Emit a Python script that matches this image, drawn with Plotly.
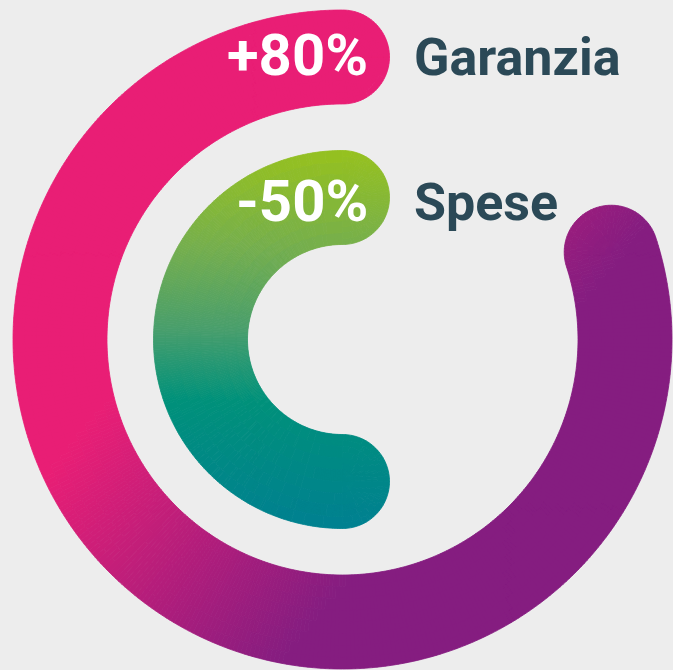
import numpy as np
import plotly.graph_objects as go

# ---------------- data ----------------
categories = ["Garanzia", "Spese"]
values = [80, 50]                 # percent of full circle
value_labels = ["+80%", "-50%"]

# ---------------- style ----------------
BG = "#EDEDED"
LABEL_COLOR = "#2B4957"
CX, CY = 342.5, 339.5             # centre of rings in page pixels
W, H = 673, 670
ring_radius = [282.5, 142.0]
half_width = 47.0

PINK = np.array([233, 30, 117])
PURPLE = np.array([133, 29, 128])
GREEN_STOPS = [(152, (150, 193, 31)), (250, (116, 174, 78)), (330, (72, 158, 108)),
               (400, (0, 145, 122)), (530, (0, 128, 145))]


def outer_color(x, y):
    px, py = x + CX, CY - y
    a = np.radians(40)
    t = px * np.cos(a) + py * np.sin(a)
    f = float(np.clip((t - 340) / 300, 0, 1))
    return PINK + (PURPLE - PINK) * f


def inner_color(x, y):
    py = CY - y
    ys = [s[0] for s in GREEN_STOPS]
    cols = np.array([s[1] for s in GREEN_STOPS], dtype=float)
    return np.array([np.interp(py, ys, cols[:, k]) for k in range(3)])


color_funcs = [outer_color, inner_color]


def cells_for_arc(rc, hw, value):
    th0 = np.pi / 2
    th1 = th0 + 2 * np.pi * value / 100.0
    polys = []
    n = int(np.ceil(np.degrees(th1 - th0) / 0.75))
    ths = np.linspace(th0, th1, n + 1)
    rs = np.linspace(rc - hw, rc + hw, 9)
    for i in range(n):
        for j in range(len(rs) - 1):
            a, b = ths[i], ths[i + 1]
            r0, r1 = rs[j], rs[j + 1]
            pts = [(r0 * np.cos(a), r0 * np.sin(a)), (r1 * np.cos(a), r1 * np.sin(a)),
                   (r1 * np.cos(b), r1 * np.sin(b)), (r0 * np.cos(b), r0 * np.sin(b))]
            polys.append(pts)
    # round caps
    for th, sgn in ((th0, -1), (th1, 1)):
        c = np.array([rc * np.cos(th), rc * np.sin(th)])
        nvec = np.array([np.cos(th), np.sin(th)])
        tvec = sgn * np.array([-np.sin(th), np.cos(th)])
        phis = np.linspace(-np.pi / 2, np.pi / 2, 49)
        rhos = np.linspace(0, hw, 9)
        for i in range(len(phis) - 1):
            for j in range(len(rhos) - 1):
                p = []
                for (rho, phi) in ((rhos[j], phis[i]), (rhos[j + 1], phis[i]),
                                   (rhos[j + 1], phis[i + 1]), (rhos[j], phis[i + 1])):
                    v = c + rho * (np.cos(phi) * tvec + np.sin(phi) * nvec)
                    p.append((v[0], v[1]))
                polys.append(p)
    return polys


fig = go.Figure()
for k, (val, rc) in enumerate(zip(values, ring_radius)):
    groups = {}
    for poly in cells_for_arc(rc, half_width, val):
        cx = np.mean([p[0] for p in poly])
        cy = np.mean([p[1] for p in poly])
        col = color_funcs[k](cx, cy)
        key = tuple(int(round(c)) for c in col)
        groups.setdefault(key, []).append(poly)
    for key, polys in groups.items():
        xs, ys = [], []
        for poly in polys:
            xs += [p[0] for p in poly] + [poly[0][0], None]
            ys += [p[1] for p in poly] + [poly[0][1], None]
        colr = "rgb(%d,%d,%d)" % key
        fig.add_trace(go.Scatter(x=xs, y=ys, mode="lines", fill="toself",
                                 fillcolor=colr, line=dict(color=colr, width=0.8),
                                 hoverinfo="skip", showlegend=False))

value_x = 27.5
label_x = 69.0
value_dy = [2, -3]
label_dy = [0, -5]
for k in range(len(categories)):
    fig.add_annotation(x=value_x, y=ring_radius[k] + value_dy[k], text=value_labels[k],
                       xanchor="right", yanchor="middle", showarrow=False,
                       font=dict(family="Roboto", size=58, color="white", weight="bold"))
    fig.add_annotation(x=label_x, y=ring_radius[k] + label_dy[k], text=categories[k],
                       xanchor="left", yanchor="middle", showarrow=False,
                       font=dict(family="Roboto", size=52, color=LABEL_COLOR, weight="bold"))

fig.update_layout(
    width=W, height=H, margin=dict(l=0, r=0, t=0, b=0),
    paper_bgcolor=BG, plot_bgcolor=BG,
    xaxis=dict(range=[-CX, W - CX], visible=False, fixedrange=True),
    yaxis=dict(range=[CY - H, CY], visible=False, fixedrange=True),
)
fig.write_html("out.html", config={"displayModeBar": False},
               post_script="document.body.style.margin='0';document.body.style.background='%s';" % BG)
